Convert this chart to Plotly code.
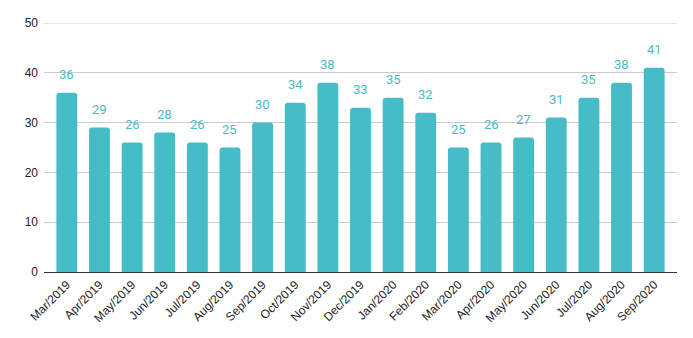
import plotly.graph_objects as go

months = ["Mar/2019", "Apr/2019", "May/2019", "Jun/2019", "Jul/2019", "Aug/2019",
          "Sep/2019", "Oct/2019", "Nov/2019", "Dec/2019", "Jan/2020", "Feb/2020",
          "Mar/2020", "Apr/2020", "May/2020", "Jun/2020", "Jul/2020", "Aug/2020",
          "Sep/2020"]
values = [36, 29, 26, 28, 26, 25, 30, 34, 38, 33, 35, 32, 25, 26, 27, 31, 35, 38, 41]
y_ticks = [0, 10, 20, 30, 40, 50]

color = "#46BDC6"

fig = go.Figure()
fig.add_trace(go.Bar(x=months, y=values, marker=dict(color=color, line=dict(width=0)),
                     width=0.64, hoverinfo="x+y"))

for m, v in zip(months, values):
    fig.add_annotation(x=m, y=v, text=str(v), showarrow=False, yanchor="bottom",
                       yshift=9, font=dict(family="Roboto, sans-serif", size=13, color=color))

# top gridline (plotly skips gridlines exactly on the range edge)
fig.add_shape(type="line", xref="paper", yref="y", x0=0, x1=1,
              y0=y_ticks[-1], y1=y_ticks[-1], line=dict(color="#ccc", width=1), layer="below")

fig.update_layout(
    width=693, height=338,
    margin=dict(l=44, r=16, t=23, b=66),
    plot_bgcolor="white", paper_bgcolor="white",
    showlegend=False,
    barcornerradius=3,
    font=dict(family="Liberation Sans, Arial, sans-serif", size=12, color="#222"),
)
fig.update_xaxes(range=[-0.7, 18.7], tickangle=-45, showgrid=False,
                 showline=True, linecolor="#333", linewidth=1,
                 tickfont=dict(size=12, color="#222"), ticks="")
fig.update_yaxes(range=[0, 50], tickvals=y_ticks, showgrid=True, gridcolor="#ccc",
                 gridwidth=1, zeroline=False, showline=False, ticks="",
                 ticklabelstandoff=5, tickfont=dict(size=12, color="#222"))

fig.write_html("out.html")
